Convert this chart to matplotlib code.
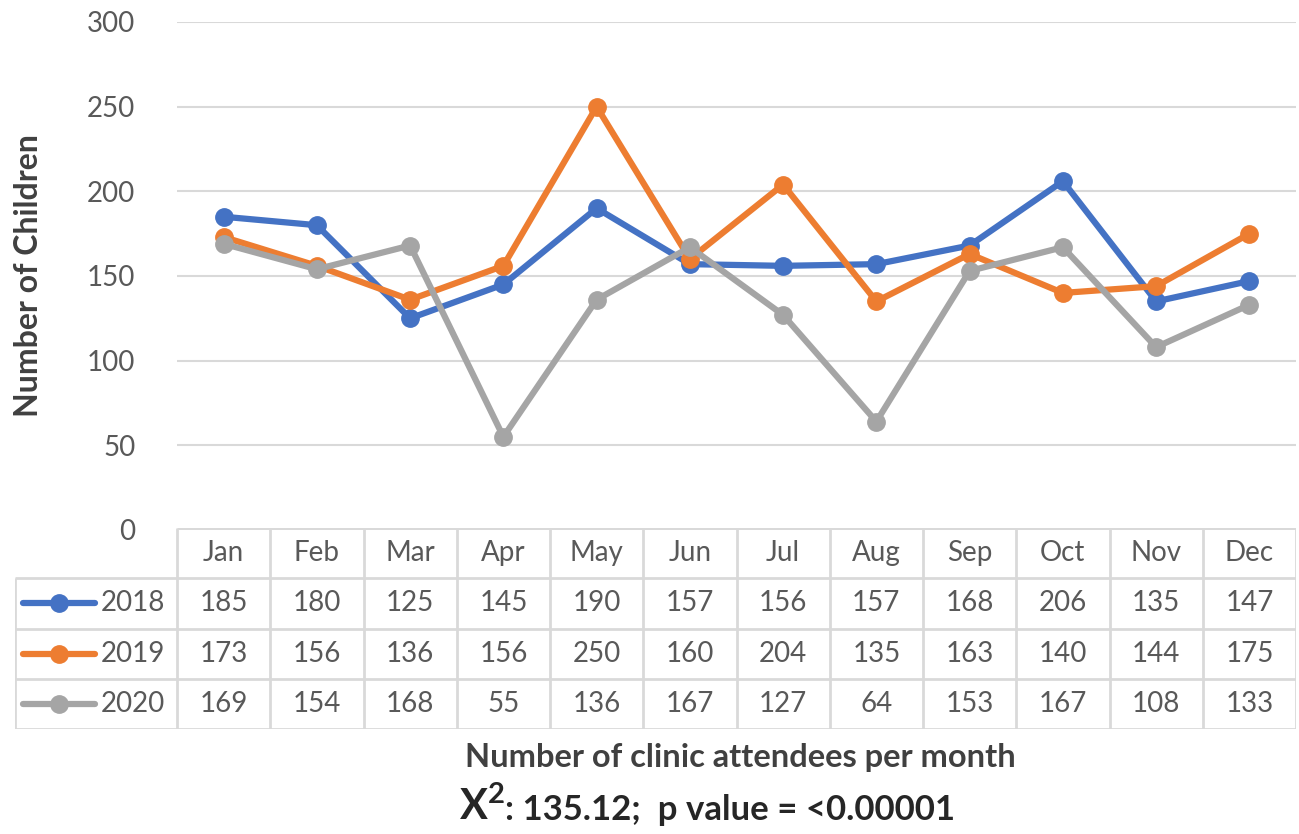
import numpy as np
import matplotlib.pyplot as plt

months = ['Jan', 'Feb', 'Mar', 'Apr', 'May', 'Jun', 'Jul', 'Aug', 'Sep', 'Oct', 'Nov', 'Dec']
years = ['2018', '2019', '2020']
v2018 = [185, 180, 125, 145, 190, 157, 156, 157, 168, 206, 135, 147]
v2019 = [173, 156, 136, 156, 250, 160, 204, 135, 163, 140, 144, 175]
v2020 = [169, 154, 168, 55, 136, 167, 127, 64, 153, 167, 108, 133]
colors = ['#4472C4', '#ED7D31', '#A5A5A5']

plt.rcParams['font.family'] = ['Lato', 'DejaVu Sans']
plt.rcParams['mathtext.fontset'] = 'custom'
plt.rcParams['mathtext.bf'] = 'Lato:bold'
plt.rcParams['mathtext.rm'] = 'Lato'
W, H = 1299, 834
fig = plt.figure(figsize=(W / 100, H / 100), dpi=100)
txt = '#595959'
grid = '#D9D9D9'
fs = 20

# main plot area (pixel box converted to figure fractions)
x0, x1 = 177, 1296
ax = fig.add_axes([x0 / W, (H - 530) / H, (x1 - x0) / W, (530 - 22) / H])
x = np.arange(len(months))
for vals, c in zip([v2018, v2019, v2020], colors):
    ax.plot(x, vals, color=c, lw=4.5, marker='o', ms=12.5, zorder=3)
ax.set_xlim(-0.5, 11.5)
ax.set_ylim(0, 300)
ax.set_yticks(range(0, 301, 50))
ax.yaxis.grid(True, color=grid, lw=1.5)
ax.set_axisbelow(True)
ax.set_xticks([])
for s in ax.spines.values():
    s.set_visible(False)
ax.tick_params(axis='y', length=0, pad=30, labelsize=fs, labelcolor=txt)
ax.set_ylabel('Number of Children', fontsize=23, fontweight='bold', color='#404040', labelpad=32)

# data table under the plot
colw = (x1 - x0) / 12
left = -0.5 - (x0 - 15) / colw
tax = fig.add_axes([15 / W, (H - 729) / H, (x1 - 15) / W, (729 - 528) / H])
tax.set_xlim(left, 11.5)
tax.set_ylim(4, 0)
tax.axis('off')
lc = dict(color=grid, lw=2, solid_capstyle='butt')
tax.plot([-0.5, 11.5], [0, 0], **lc)
for r in [1, 2, 3, 4]:
    tax.plot([left, 11.5], [r, r], **lc)
for k in range(13):
    tax.plot([-0.5 + k, -0.5 + k], [0, 4], **lc)
tax.plot([left, left], [1, 4], **lc)

for i, m in enumerate(months):
    tax.text(i, 0.5, m, ha='center', va='center', fontsize=fs, color=txt)
for r, (yr, vals, c) in enumerate(zip(years, [v2018, v2019, v2020], colors)):
    yy = r + 1.5
    tax.plot([left + 0.09, left + 0.86], [yy, yy], color=c, lw=4.5,
             solid_capstyle='round')
    tax.plot([left + 0.475], [yy], marker='o', ms=12.5, color=c)
    tax.text(left + 0.92, yy, yr, ha='left', va='center', fontsize=fs, color=txt)
    for i, v in enumerate(vals):
        tax.text(i, yy, str(v), ha='center', va='center', fontsize=fs, color=txt)

fig.text(740 / W, 1 - 757 / H, 'Number of clinic attendees per month', ha='center',
         va='center', fontsize=23.5, fontweight='bold', color='#404040')
fig.text(505 / W, 1 - 820 / H, r'$\mathbf{X}^{\mathbf{2}}$', ha='right',
         va='baseline', fontsize=30, color='#262626')
fig.text(505 / W, 1 - 820 / H, ': 135.12;  p value = <0.00001', ha='left',
         va='baseline', fontsize=25, fontweight='bold', color='#262626')

fig.savefig('out.png', dpi=100)
